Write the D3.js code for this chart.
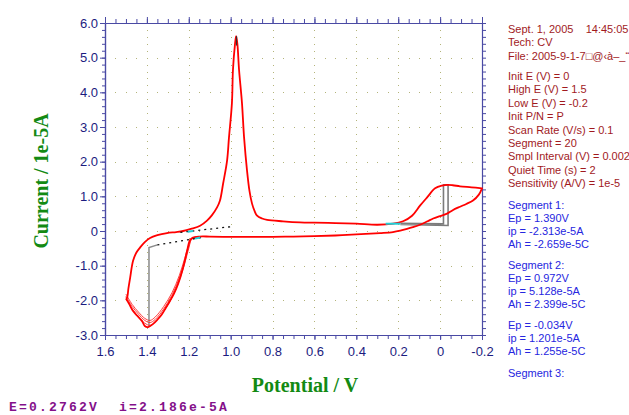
<!DOCTYPE html>
<html>
<head>
<meta charset="utf-8">
<script src="https://cdn.jsdelivr.net/npm/d3@7"></script>
<style>
  body { margin: 0; background: #fff; }
  svg { display: block; }
</style>
</head>
<body>
<div id="chart"></div>
<script>
// Axis ticks and labels
const xMajor = [1.6, 1.4, 1.2, 1.0, 0.8, 0.6, 0.4, 0.2, 0, -0.2];
const xLabels = ["1.6", "1.4", "1.2", "1.0", "0.8", "0.6", "0.4", "0.2", "0", "-0.2"];
const yMajor = [6, 5, 4, 3, 2, 1, 0, -1, -2, -3];
const yLabels = ["6.0", "5.0", "4.0", "3.0", "2.0", "1.0", "0", "-1.0", "-2.0", "-3.0"];

// Main cycle, scan 1.5 V -> -0.2 V (current in 1e-5 A)
const upE = [1.500, 1.495, 1.488, 1.480, 1.466, 1.450, 1.433, 1.410, 1.385, 1.350, 1.304, 1.260, 1.227, 1.190, 1.146, 1.113, 1.090, 1.065, 1.051, 1.036, 1.017, 1.008, 0.994, 0.989, 0.980, 0.974, 0.968, 0.960, 0.946, 0.936, 0.922, 0.910, 0.898, 0.886, 0.874, 0.850, 0.826, 0.750, 0.669, 0.600, 0.500, 0.400, 0.300, 0.225, 0.177, 0.134, 0.096, 0.062, 0.024, -0.010, -0.033, -0.060, -0.095, -0.150, -0.200];
const upI = [-1.95, -1.93, -1.65, -1.35, -0.86, -0.62, -0.48, -0.32, -0.20, -0.12, -0.06, -0.03, 0.00, 0.06, 0.15, 0.30, 0.45, 0.68, 0.88, 1.37, 2.04, 2.70, 3.69, 4.65, 5.35, 5.62, 5.40, 4.65, 3.69, 2.70, 1.75, 1.15, 0.79, 0.58, 0.44, 0.36, 0.32, 0.28, 0.25, 0.24, 0.23, 0.21, 0.18, 0.21, 0.28, 0.44, 0.73, 0.97, 1.23, 1.31, 1.33, 1.32, 1.29, 1.26, 1.23];

// Main cycle, scan -0.2 V -> 1.5 V
const loE = [-0.200, -0.185, -0.157, -0.125, -0.095, -0.060, -0.033, 0.000, 0.033, 0.060, 0.096, 0.130, 0.158, 0.190, 0.225, 0.287, 0.400, 0.500, 0.600, 0.700, 0.800, 0.900, 1.000, 1.100, 1.150, 1.180, 1.194, 1.208, 1.227, 1.251, 1.270, 1.290, 1.310, 1.328, 1.350, 1.370, 1.394, 1.410, 1.423, 1.445, 1.466, 1.485, 1.500];
const loI = [1.23, 1.05, 0.88, 0.78, 0.70, 0.60, 0.50, 0.43, 0.36, 0.28, 0.18, 0.11, 0.06, 0.01, -0.03, -0.06, -0.10, -0.13, -0.15, -0.16, -0.17, -0.17, -0.17, -0.16, -0.16, -0.19, -0.26, -0.57, -1.06, -1.53, -1.80, -2.02, -2.22, -2.40, -2.56, -2.68, -2.77, -2.74, -2.60, -2.45, -2.31, -2.10, -1.95];

// Later cycles around the 1.39 V peak
const cycE = [1.15, 1.185, 1.20, 1.22, 1.245, 1.28, 1.32, 1.36, 1.385, 1.41, 1.44, 1.47, 1.50];
const cyc2I = [-0.16, -0.22, -0.45, -0.88, -1.35, -1.85, -2.25, -2.55, -2.64, -2.58, -2.40, -2.18, -1.88];
const cyc3I = [-0.16, -0.21, -0.40, -0.80, -1.28, -1.78, -2.18, -2.48, -2.58, -2.52, -2.34, -2.12, -1.82];
const cyc4I = [-0.16, -0.23, -0.50, -0.95, -1.42, -1.92, -2.32, -2.62, -2.72, -2.66, -2.48, -2.25, -1.92];

// Peak baselines (grey = drawn part, dotted = extrapolation, cyan = fit range)
const pk1E = [1.39, 1.39, 1.35], pk1I = [-2.77, -0.48, -0.40];
const pk1dE = [1.35, 1.14], pk1dI = [-0.40, -0.19];
const pk1cE = [1.17, 1.145], pk1cI = [-0.22, -0.19];
const pk2dE = [1.24, 0.99], pk2dI = [-0.04, 0.13];
const pk2cE = [1.205, 1.18], pk2cI = [-0.02, 0.00];
const pk2E = [0.972, 0.972], pk2I = [5.35, 5.62];
const pk3E = [0.19, -0.016, -0.016, -0.038, -0.038, 0.19], pk3I = [0.22, 0.21, 1.33, 1.33, 0.16, 0.19];
const pk3cE = [0.26, 0.19], pk3cI = [0.21, 0.21];

const infoHead = ["Sept. 1, 2005    14:45:05", "Tech: CV", "File: 2005-9-1-7\u25A1@\u2039\u00E0\u2013_\u201C"];
const infoParams = ["Init E (V) = 0", "High E (V) = 1.5", "Low E (V) = -0.2", "Init P/N = P", "Scan Rate (V/s) = 0.1", "Segment = 20", "Smpl Interval (V) = 0.002", "Quiet Time (s) = 2", "Sensitivity (A/V) = 1e-5"];
const seg1 = ["Segment 1:", "Ep = 1.390V", "ip = -2.313e-5A", "Ah = -2.659e-5C"];
const seg2 = ["Segment 2:", "Ep = 0.972V", "ip = 5.128e-5A", "Ah = 2.399e-5C"];
const seg2b = ["Ep = -0.034V", "ip = 1.201e-5A", "Ah = 1.255e-5C"];
const seg3 = ["Segment 3:"];
const cursorText = "E=0.2762V  i=2.186e-5A";

const W = 629, H = 415;
const plot = {left: 105, right: 482, top: 23, bottom: 335};
const axisColor = "#4a4aa4", labelColor = "#1c1c80";

const svg = d3.select("#chart").append("svg")
  .attr("width", W).attr("height", H)
  .style("font-family", "'Liberation Sans', Arial, sans-serif");

const x = d3.scaleLinear().domain([1.6, -0.2]).range([plot.left, plot.right]);
const y = d3.scaleLinear().domain([-3, 6]).range([plot.bottom, plot.top]);

const xMinor = d3.range(0, 37).map(i => -0.2 + i * 0.05);
const yMinor = d3.range(0, 46).map(i => -3 + i * 0.2);

// dotted grid: dots at minor positions along major lines
const grid = svg.append("g").attr("fill", "#b4b47a");
xMajor.slice(1, -1).forEach(e => {
  yMinor.forEach(v => grid.append("rect")
    .attr("x", Math.round(x(e))).attr("y", Math.round(y(v))).attr("width", 1).attr("height", 1));
});
yMajor.slice(1, -1).forEach(v => {
  xMinor.forEach(e => grid.append("rect")
    .attr("x", Math.round(x(e))).attr("y", Math.round(y(v))).attr("width", 1).attr("height", 1));
});

// axes on four sides: minor then major ticks
function styleAxis(g) {
  g.select(".domain").attr("stroke", axisColor).attr("stroke-width", 1.2);
  g.selectAll(".tick line").attr("stroke", axisColor);
  g.selectAll("text").attr("fill", labelColor).style("font-size", "13px")
    .style("font-family", "'Liberation Sans', Arial, sans-serif");
}
svg.append("g").attr("transform", `translate(0,${plot.bottom})`)
  .call(d3.axisBottom(x).tickValues(xMinor).tickSize(4).tickFormat("").tickSizeOuter(0)).call(styleAxis);
svg.append("g").attr("transform", `translate(0,${plot.bottom})`)
  .call(d3.axisBottom(x).tickValues(xMajor).tickSize(5).tickPadding(7)
    .tickFormat((d, i) => xLabels[i]).tickSizeOuter(0)).call(styleAxis);
svg.append("g").attr("transform", `translate(0,${plot.top})`)
  .call(d3.axisTop(x).tickValues(xMinor).tickSize(4).tickFormat("").tickSizeOuter(0)).call(styleAxis);
svg.append("g").attr("transform", `translate(0,${plot.top})`)
  .call(d3.axisTop(x).tickValues(xMajor).tickSize(6).tickFormat("").tickSizeOuter(0)).call(styleAxis);
svg.append("g").attr("transform", `translate(${plot.left},0)`)
  .call(d3.axisLeft(y).tickValues(yMinor).tickSize(3).tickFormat("").tickSizeOuter(0)).call(styleAxis);
svg.append("g").attr("transform", `translate(${plot.left},0)`)
  .call(d3.axisLeft(y).tickValues(yMajor).tickSize(5).tickPadding(2)
    .tickFormat((d, i) => yLabels[i]).tickSizeOuter(0)).call(styleAxis);
svg.append("g").attr("transform", `translate(${plot.right},0)`)
  .call(d3.axisRight(y).tickValues(yMinor).tickSize(4).tickFormat("").tickSizeOuter(0)).call(styleAxis);

const line = d3.line().x(d => x(d[0])).y(d => y(d[1]));
const zipped = (E, I) => E.map((e, i) => [e, I[i]]);

// baseline markers under the curves
svg.append("path").attr("d", line(zipped(pk1E, pk1I)))
  .attr("fill", "none").attr("stroke", "#8a8a8a").attr("stroke-width", 1.5);
svg.append("path").attr("d", line(zipped(pk3E, pk3I)))
  .attr("fill", "none").attr("stroke", "#7c7c7c").attr("stroke-width", 1.6);

// red CV traces
const curve = d3.line().x(d => x(d[0])).y(d => y(d[1])).curve(d3.curveCatmullRom);
[cyc2I, cyc3I, cyc4I].forEach(I => {
  svg.append("path").attr("d", curve(zipped(cycE, I)))
    .attr("fill", "none").attr("stroke", "#ff2a2a").attr("stroke-width", 0.9);
});
svg.append("path").attr("d", curve(zipped(upE, upI).concat(zipped(loE, loI))))
  .attr("fill", "none").attr("stroke", "#ff0000").attr("stroke-width", 1.8)
  .attr("stroke-linejoin", "round");

// dotted extrapolations and fit ranges
[[pk1dE, pk1dI], [pk2dE, pk2dI]].forEach(([E, I]) => {
  svg.append("path").attr("d", line(zipped(E, I)))
    .attr("fill", "none").attr("stroke", "#101010").attr("stroke-width", 1.3)
    .attr("stroke-dasharray", "2,4");
});
[[pk1cE, pk1cI], [pk2cE, pk2cI], [pk3cE, pk3cI]].forEach(([E, I]) => {
  svg.append("path").attr("d", line(zipped(E, I)))
    .attr("fill", "none").attr("stroke", "#20d0d8").attr("stroke-width", 2);
});
svg.append("path").attr("d", line(zipped(pk2E, pk2I)))
  .attr("fill", "none").attr("stroke", "#303030").attr("stroke-width", 1.2);

// axis titles
svg.append("text")
  .attr("transform", "translate(48,181) rotate(-90)")
  .attr("text-anchor", "middle")
  .style("font-family", "'Liberation Serif', 'Times New Roman', serif")
  .style("font-weight", "bold").style("font-size", "20px")
  .attr("fill", "#138a13").text("Current / 1e-5A");
svg.append("text")
  .attr("x", 305).attr("y", 392)
  .attr("text-anchor", "middle")
  .style("font-family", "'Liberation Serif', 'Times New Roman', serif")
  .style("font-weight", "bold").style("font-size", "20px")
  .attr("fill", "#138a13").text("Potential / V");

// info panel
function block(lines, y0, step, color) {
  svg.append("g").selectAll("text").data(lines).enter().append("text")
    .attr("x", 508).attr("y", (d, i) => y0 + i * step + 4)
    .attr("xml:space", "preserve").style("white-space", "pre")
    .attr("fill", color).style("font-size", "11px").text(d => d);
}
block(infoHead, 29, 13.4, "#a11a1e");
block(infoParams, 76, 13.4, "#a11a1e");
block(seg1, 204.5, 13, "#2626e0");
block(seg2, 264.5, 13, "#2626e0");
block(seg2b, 325, 13, "#2626e0");
block(seg3, 373, 13, "#2626e0");

// cursor readout
svg.append("text")
  .attr("x", 9).attr("y", 411)
  .attr("xml:space", "preserve")
  .style("white-space", "pre")
  .style("font-family", "'Liberation Mono', 'Courier New', monospace")
  .style("font-weight", "bold").style("font-size", "13px")
  .style("letter-spacing", "2.2px")
  .attr("fill", "#84108a").text(cursorText);
</script>
</body>
</html>
